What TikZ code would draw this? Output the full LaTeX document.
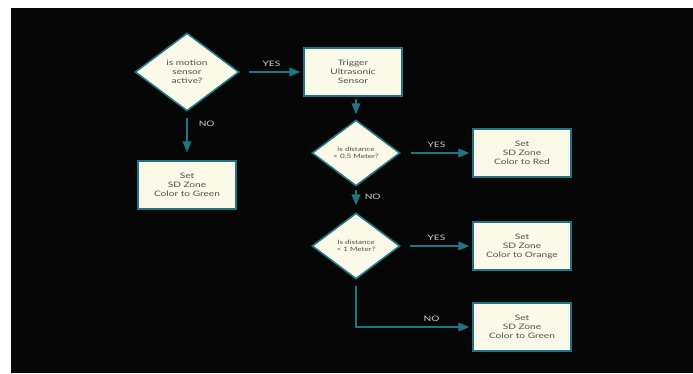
\documentclass[tikz,border=0pt]{standalone}
\usepackage{fontspec}
\setmainfont{Lato}[FakeStretch=1.35]
\usepackage{tikz}
\usetikzlibrary{shapes,arrows}
\definecolor{flowteal}{RGB}{30,118,132}
\definecolor{flowcream}{RGB}{251,249,232}
\definecolor{flowtext}{RGB}{80,80,80}
\definecolor{flowlabel}{RGB}{205,205,205}
\definecolor{flowbg}{RGB}{6,6,6}

\begin{document}
\begin{tikzpicture}[x=1pt,y=-1pt,->,>=triangle 45,auto,node distance=166pt]
\tikzstyle{decision}=[diamond,aspect=1.33,draw=flowteal,line width=1.6pt,fill=flowcream,text=flowtext,inner sep=0pt,align=center,font=\fontsize{7.5}{9}\selectfont,minimum width=104pt,minimum height=78pt]
\tikzstyle{small}=[minimum width=88pt,minimum height=66pt,font=\fontsize{6}{6.6}\selectfont]
\tikzstyle{process}=[rectangle,draw=flowteal,line width=1.6pt,fill=flowcream,text=flowtext,align=center,font=\fontsize{7.5}{9}\selectfont,minimum width=98pt,minimum height=48pt]
\tikzstyle{answer}=[text=flowlabel,inner sep=5pt,font=\fontsize{7.5}{9}\selectfont]
\tikzstyle{every edge}=[draw=flowteal,line width=1.5pt]
% background with the white strips
\fill[-,white] (0,0) rectangle (693,373);
\fill[-,flowbg] (11,8) rectangle (693,373);
\useasboundingbox (0,0) rectangle (693,373);

\node[decision] (motion) at (187,72) {is motion\\sensor\\active?};
\node[process][right of=motion](trigger){Trigger\\Ultrasonic\\Sensor};
\node[process][below of=motion,node distance=113pt](green1){Set\\SD Zone\\Color to Green};
\node[decision,small] (near) at (356,153) {is distance\\< 0.5 Meter?};
\node[process][right of=near](red){Set\\SD Zone\\Color to Red};
\node[decision,small][below of=near,node distance=93pt](far){Is distance\\< 1 Meter?};
\node[process][right of=far](orange){Set\\SD Zone\\Color to Orange};
\node[process][below of=orange,node distance=81pt](green2){Set\\SD Zone\\Color to Green};

\path (motion)edge [shorten <=9pt,shorten >=3pt]node[answer]{YES}(trigger)
              edge [shorten <=6pt,shorten >=8pt]node[answer,pos=0.24,xshift=6pt]{NO}(green1)
      (trigger.south -| near.north)edge [shorten <=2pt,shorten >=5pt](near.north)
      (near)edge [shorten <=10pt,shorten >=3pt]node[answer]{YES}(red)
            edge [shorten <=3pt,shorten >=7pt]node[answer,pos=0.4,xshift=3pt]{NO}(far)
      (far)edge [shorten <=9pt,shorten >=3pt]node[answer]{YES}(orange);
\draw[flowteal,line width=1.5pt,shorten <=6pt,shorten >=3pt] (far) |- node[answer,pos=0.825]{NO} (green2);
\end{tikzpicture}
\end{document}
